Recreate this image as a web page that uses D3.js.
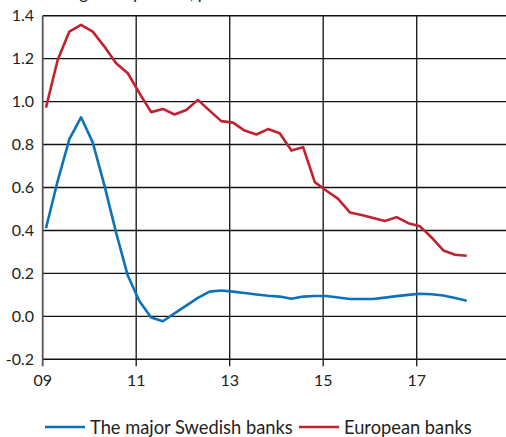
<!DOCTYPE html>
<html><head><meta charset="utf-8">
<script src="https://cdn.jsdelivr.net/npm/d3@7"></script>
<style>
html,body{margin:0;padding:0;background:#fff;}
svg{display:block;font-family:Lato,"Open Sans",sans-serif;}
</style></head>
<body>
<svg id="c" width="506" height="437"></svg>
<script>
// Quarterly observations, 2009 Q1 .. 2018 Q1
const quarters = d3.range(37).map(i => (2009 + Math.floor(i/4)) + "Q" + (i%4+1));
const swedishBanks = [0.41,0.63,0.825,0.927,0.81,0.61,0.39,0.19,0.07,-0.005,-0.023,0.014,0.05,0.086,0.115,0.12,0.115,0.109,0.102,0.096,0.092,0.082,0.092,0.095,0.095,0.088,0.081,0.081,0.081,0.087,0.094,0.1,0.105,0.103,0.097,0.085,0.073];
const europeanBanks = [0.972,1.194,1.326,1.357,1.326,1.256,1.179,1.132,1.039,0.951,0.966,0.94,0.961,1.008,0.958,0.909,0.902,0.865,0.847,0.872,0.853,0.772,0.788,0.625,0.585,0.547,0.484,0.472,0.458,0.444,0.462,0.434,0.419,0.367,0.307,0.287,0.282];
const yTicks = [-0.2,0.0,0.2,0.4,0.6,0.8,1.0,1.2,1.4];
const xTicks = [2009,2011,2013,2015,2017];
const xTickLabels = ["09","11","13","15","17"];
const seriesNames = ["The major Swedish banks","European banks"];
const colors = ["#0b72bb","#c0232f"];
const subtitle = "Rolling four quarters, per cent";

const svg = d3.select("#c");
const x = d3.scaleLinear().domain([2009,2019]).range([42.7,510.2]);
const y = d3.scaleLinear().domain([-0.2,1.4]).range([359.3,15.7]);
const qPos = q => +q.slice(0,4) + (+q.slice(5)-1)/4 + 0.07;

// partially visible subtitle at top (clipped in the reference as well)
svg.append("text").attr("x",38).attr("y",-1).attr("font-size",17).attr("fill","#222").text(subtitle);

// horizontal grid
svg.append("g").selectAll("line").data(yTicks).join("line")
  .attr("x1",x(2009)).attr("x2",506)
  .attr("y1",d=>y(d)).attr("y2",d=>y(d))
  .attr("stroke","#111").attr("stroke-width",1.4);

// vertical grid
svg.append("g").selectAll("line").data(xTicks.slice(1)).join("line")
  .attr("x1",d=>x(d)).attr("x2",d=>x(d))
  .attr("y1",y(1.4)).attr("y2",y(-0.2)+7)
  .attr("stroke","#222").attr("stroke-width",1.4);

// left axis
svg.append("line").attr("x1",x(2009)).attr("x2",x(2009))
  .attr("y1",y(1.4)).attr("y2",y(-0.2)+7)
  .attr("stroke","#555").attr("stroke-width",1.8);

// y tick labels
svg.append("g").selectAll("text").data(yTicks).join("text")
  .attr("x",34).attr("y",d=>y(d)).attr("dy","0.36em")
  .attr("text-anchor","end").attr("font-size",16).attr("fill","#222")
  .text(d=>d3.format(".1f")(d).replace("−","-"));

// x tick labels
svg.append("g").selectAll("text").data(xTicks).join("text")
  .attr("x",d=>x(d)).attr("y",386)
  .attr("text-anchor","middle").attr("font-size",16).attr("fill","#222")
  .text((d,i)=>xTickLabels[i]);

// lines
const line = d3.line().x(d=>x(qPos(d[0]))).y(d=>y(d[1]));
[swedishBanks, europeanBanks].forEach((s,k)=>{
  svg.append("path").datum(quarters.map((q,i)=>[q,s[i]]))
    .attr("d",line).attr("fill","none").attr("stroke",colors[k])
    .attr("stroke-width",2.6).attr("stroke-linejoin","round");
});

// legend
const leg = [{x:45,name:seriesNames[0],c:colors[0]},{x:299,name:seriesNames[1],c:colors[1]}];
const lg = svg.append("g");
leg.forEach(l=>{
  lg.append("line").attr("x1",l.x).attr("x2",l.x+40).attr("y1",427).attr("y2",427)
    .attr("stroke",l.c).attr("stroke-width",2.6);
  lg.append("text").attr("x",l.x+45).attr("y",427).attr("dy","0.36em")
    .attr("font-size",18.3).attr("fill","#222").text(l.name);
});
</script>
</body></html>
